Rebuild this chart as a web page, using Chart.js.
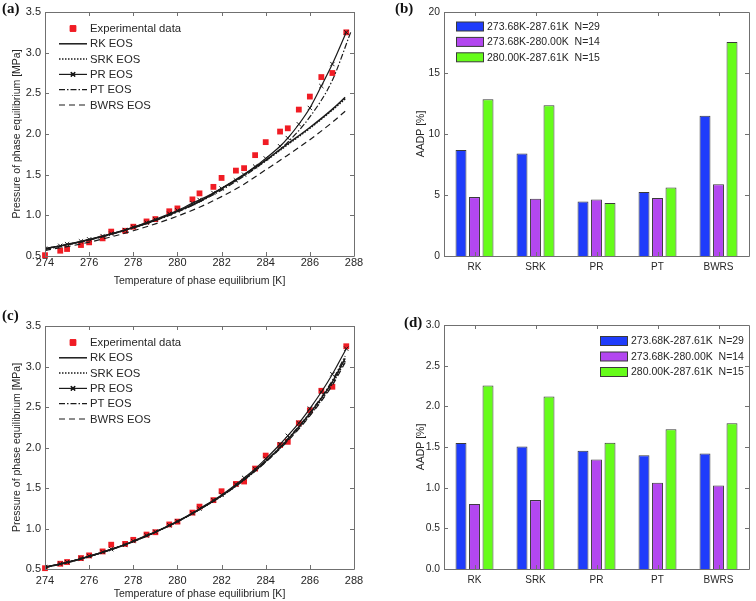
<!DOCTYPE html>
<html lang="en">
<head>
  <meta charset="UTF-8">
  <title>Phase equilibrium EOS comparison</title>
  <script src="https://cdn.jsdelivr.net/npm/chart.js"></script>
  <style>
    body { margin: 0; background: #fff; }
    #wrap { position: relative; width: 756px; height: 601px; overflow: hidden; }
    .panel { position: absolute; }
    .tag { position: absolute; font: bold 15px "Liberation Serif", "Times New Roman", serif; line-height: 15px; color: #111; }
  </style>
</head>
<body>
<div id="wrap">
  <div class="panel" style="left:0;top:0;width:378px;height:300px"><canvas id="chartA"></canvas></div>
  <div class="panel" style="left:378px;top:0;width:378px;height:300px"><canvas id="chartB"></canvas></div>
  <div class="panel" style="left:0;top:300px;width:378px;height:301px"><canvas id="chartC"></canvas></div>
  <div class="panel" style="left:378px;top:300px;width:378px;height:301px"><canvas id="chartD"></canvas></div>
  <div class="tag" style="left:2px;top:1px">(a)</div>
  <div class="tag" style="left:395px;top:1px">(b)</div>
  <div class="tag" style="left:2px;top:308px">(c)</div>
  <div class="tag" style="left:404px;top:315px">(d)</div>
</div>

<script>
  // experimental points, same in (a) and (c)
  var expT = [274.0, 274.69, 275.0, 275.63, 276.0, 276.61, 277.0, 277.63, 278.0, 278.6, 279.0, 279.63, 280.0, 280.68,
              281.0, 281.63, 282.0, 282.65, 283.02, 283.52, 284.0, 284.65, 285.0, 285.5, 286.0, 286.52, 287.02, 287.65];
  var expP = [0.51, 0.565, 0.586, 0.635, 0.668, 0.717, 0.80, 0.81, 0.86, 0.925, 0.954, 1.05, 1.085, 1.196,
              1.27, 1.35, 1.46, 1.55, 1.58, 1.74, 1.90, 2.03, 2.07, 2.30, 2.46, 2.70, 2.75, 3.25];

  // EOS curves, panel (a)
  var curveT = [274, 275, 276, 277, 278, 279, 280, 281, 282, 283, 284, 285, 286, 287, 287.6];
  var rkA   = [0.59, 0.64, 0.70, 0.77, 0.85, 0.94, 1.05, 1.17, 1.33, 1.50, 1.68, 1.88, 2.08, 2.30, 2.45];
  var srkA  = [0.59, 0.64, 0.70, 0.77, 0.85, 0.94, 1.05, 1.17, 1.33, 1.49, 1.67, 1.87, 2.07, 2.29, 2.43];
  var prA   = [0.59, 0.625, 0.645, 0.68, 0.705, 0.745, 0.775, 0.82, 0.855, 0.91, 0.95, 1.02, 1.06, 1.15,
               1.19, 1.275, 1.33, 1.43, 1.50, 1.60, 1.70, 1.85, 1.95, 2.12, 2.32, 2.59, 2.86, 3.25];
  var ptTA  = [274, 275, 276, 277, 278, 279, 280, 281, 282, 283, 284, 285, 286, 287, 287.85];
  var ptA   = [0.58, 0.635, 0.695, 0.765, 0.845, 0.935, 1.04, 1.165, 1.31, 1.48, 1.67, 1.90, 2.21, 2.65, 3.25];
  var bwrsA = [0.57, 0.615, 0.67, 0.735, 0.81, 0.895, 0.99, 1.10, 1.23, 1.38, 1.56, 1.74, 1.93, 2.14, 2.28];

  // EOS curves, panel (c)
  var rkC   = [0.52, 0.58, 0.655, 0.74, 0.84, 0.955, 1.085, 1.235, 1.405, 1.60, 1.83, 2.10, 2.42, 2.80, 3.10];
  var srkC  = [0.52, 0.58, 0.655, 0.74, 0.84, 0.955, 1.085, 1.235, 1.40, 1.595, 1.825, 2.09, 2.40, 2.78, 3.07];
  var prC   = [0.525, 0.565, 0.585, 0.63, 0.66, 0.71, 0.745, 0.80, 0.845, 0.915, 0.96, 1.04, 1.09, 1.19,
               1.245, 1.35, 1.415, 1.545, 1.625, 1.735, 1.86, 2.04, 2.145, 2.30, 2.48, 2.685, 2.905, 3.22];
  var ptC   = [0.52, 0.58, 0.655, 0.74, 0.84, 0.955, 1.085, 1.235, 1.405, 1.605, 1.835, 2.11, 2.43, 2.82, 3.13];
  var bwrsC = [0.52, 0.58, 0.655, 0.74, 0.84, 0.955, 1.085, 1.235, 1.40, 1.595, 1.82, 2.08, 2.39, 2.76, 3.05];

  var lineLabels = ['Experimental data', 'RK EOS', 'SRK EOS', 'PR EOS', 'PT EOS', 'BWRS EOS'];

  // AADP bars
  var eosNames = ['RK', 'SRK', 'PR', 'PT', 'BWRS'];
  var rangeLabels = ['273.68K-287.61K  N=29', '273.68K-280.00K  N=14', '280.00K-287.61K  N=15'];
  var aadpAllB  = [8.68, 8.40, 4.47, 5.24, 11.49];
  var aadpLowB  = [4.83, 4.69, 4.64, 4.75, 5.89];
  var aadpHighB = [12.85, 12.36, 4.34, 5.62, 17.54];
  var aadpAllD  = [1.55, 1.506, 1.453, 1.40, 1.42];
  var aadpLowD  = [0.80, 0.847, 1.347, 1.06, 1.027];
  var aadpHighD = [2.255, 2.12, 1.551, 1.719, 1.793];

  var barColors = ['#1f3cfb', '#b347f0', '#66fc1a'];
  var textColor = '#262626';
  var fontFamily = '"Liberation Sans", Arial, sans-serif';

  Chart.defaults.font.family = fontFamily;
  Chart.defaults.color = textColor;
  Chart.defaults.animation = false;

  function pairs(xs, ys) {
    var out = [];
    for (var i = 0; i < xs.length; i++) out.push({ x: xs[i], y: ys[i] });
    return out;
  }

  // matlab-like box with inward ticks on all four sides
  var framePlugin = {
    id: 'frame',
    afterDraw: function(chart) {
      var ctx = chart.ctx, a = chart.chartArea;
      var xs = chart.scales.x, ys = chart.scales.y;
      ctx.save();
      ctx.strokeStyle = '#707070';
      ctx.lineWidth = 1;
      ctx.beginPath();
      ctx.rect(Math.round(a.left) + 0.5, Math.round(a.top) + 0.5,
               Math.round(a.right - a.left), Math.round(a.bottom - a.top));
      var tl = 4;
      xs.ticks.forEach(function(t, i) {
        var px = Math.round(xs.getPixelForTick(i)) + 0.5;
        ctx.moveTo(px, a.bottom); ctx.lineTo(px, a.bottom - tl);
        ctx.moveTo(px, a.top); ctx.lineTo(px, a.top + tl);
      });
      ys.ticks.forEach(function(t, i) {
        var py = Math.round(ys.getPixelForTick(i)) + 0.5;
        ctx.moveTo(a.left, py); ctx.lineTo(a.left + tl, py);
        ctx.moveTo(a.right, py); ctx.lineTo(a.right - tl, py);
      });
      ctx.stroke();
      ctx.restore();
    }
  };

  // legend drawn inside the plot area
  var innerLegend = {
    id: 'innerLegend',
    afterDraw: function(chart, args, opts) {
      var ctx = chart.ctx, a = chart.chartArea;
      ctx.save();
      ctx.font = opts.fontSize + 'px ' + fontFamily;
      ctx.textBaseline = 'middle';
      chart.data.datasets.forEach(function(ds, i) {
        var y = a.top + opts.top + i * opts.rowGap;
        var x0 = opts.fromRight ? a.right - opts.left : a.left + opts.left;
        var x1 = x0 + opts.sample;
        if (opts.kind === 'bar') {
          ctx.fillStyle = ds.backgroundColor;
          ctx.fillRect(x0, y - 4.5, opts.sample, 9);
          ctx.strokeStyle = '#3a3a3a';
          ctx.lineWidth = 1;
          ctx.strokeRect(x0 + 0.5, y - 4.5, opts.sample - 1, 9);
        } else {
          if (ds.showLine !== false) {
            ctx.strokeStyle = ds.borderColor;
            ctx.lineWidth = ds.borderWidth;
            ctx.setLineDash(ds.borderDash || []);
            ctx.beginPath();
            ctx.moveTo(x0, y); ctx.lineTo(x1, y);
            ctx.stroke();
            ctx.setLineDash([]);
          }
          if (ds.pointRadius > 0) {
            Chart.helpers.drawPoint(ctx, {
              pointStyle: ds.pointStyle, radius: ds.pointRadius, rotation: 0,
              borderWidth: ds.pointBorderWidth || 1
            }, (x0 + x1) / 2, y);
            ctx.fillStyle = ds.pointBackgroundColor || ds.borderColor;
            ctx.strokeStyle = ds.pointBorderColor || ds.borderColor;
            if (ds.pointStyle === 'rect') ctx.fill(); else ctx.stroke();
          }
        }
        ctx.fillStyle = textColor;
        ctx.fillText(ds.label, x1 + opts.gap, y + 0.5);
      });
      ctx.restore();
    }
  };

  function lineDatasets(pr, rk, srk, pt, ptT, bwrs) {
    var ink = '#1a1a1a';
    return [
      { label: lineLabels[0], data: pairs(expT, expP), showLine: false, pointStyle: 'rect', pointRadius: 4.1,
        pointBackgroundColor: '#f01c24', pointBorderColor: '#f01c24', pointBorderWidth: 0, borderColor: '#f01c24',
        order: 9, clip: false },
      { label: lineLabels[1], data: pairs(curveT, rk), borderColor: ink, borderWidth: 1.5, pointRadius: 0, order: 2 },
      { label: lineLabels[2], data: pairs(curveT, srk), borderColor: ink, borderWidth: 1.5, borderDash: [1.5, 1.5],
        pointRadius: 0, order: 3 },
      { label: lineLabels[3], data: pairs(expT, pr), borderColor: ink, borderWidth: 1.2, pointStyle: 'crossRot',
        pointRadius: 3, pointBorderWidth: 1, pointBorderColor: ink, pointBackgroundColor: ink, order: 1 },
      { label: lineLabels[4], data: pairs(ptT, pt), borderColor: ink, borderWidth: 1.2, borderDash: [6, 2, 1.5, 2],
        pointRadius: 0, order: 4 },
      { label: lineLabels[5], data: pairs(curveT, bwrs), borderColor: ink, borderWidth: 1.2, borderDash: [6, 4],
        pointRadius: 0, order: 5 }
    ];
  }

  function lineChart(id, datasets, pad, xHeight, tickPad, xTitlePad) {
    return new Chart(document.getElementById(id), {
      type: 'line',
      data: { datasets: datasets },
      plugins: [framePlugin, innerLegend],
      options: {
        responsive: true,
        maintainAspectRatio: false,
        layout: { padding: pad },
        elements: { line: { cubicInterpolationMode: 'monotone' } },
        plugins: {
          legend: { display: false },
          tooltip: { enabled: false },
          innerLegend: { kind: 'line', left: 14, top: 16.5, rowGap: 15.3, sample: 28, gap: 3, fontSize: 11.3 }
        },
        scales: {
          x: {
            type: 'linear', min: 274, max: 288,
            grid: { display: false, drawTicks: false, tickLength: 0 },
            border: { display: false },
            ticks: { stepSize: 2, padding: tickPad, maxRotation: 0, font: { size: 11 } },
            title: { display: true, text: 'Temperature of phase equilibrium [K]', font: { size: 10.5 },
                     padding: { top: 0, bottom: xTitlePad } },
            afterFit: function(s) { s.height = xHeight; }
          },
          y: {
            min: 0.5, max: 3.5,
            grid: { display: false, drawTicks: false, tickLength: 0 },
            border: { display: false },
            ticks: { stepSize: 0.5, padding: 4, font: { size: 11 },
                     callback: function(v) { return v.toFixed(1); } },
            title: { display: true, text: 'Pressure of phase equilibrium [MPa]', font: { size: 10.5 },
                     padding: { top: 10.5, bottom: 0 } },
            afterFit: function(s) { s.width = 45; }
          }
        }
      }
    });
  }

  function barChart(id, all, low, high, yMax, yStep, digits, pad, xHeight, tickPad, legendOpts) {
    var sets = [all, low, high].map(function(vals, i) {
      return { label: rangeLabels[i], data: vals, backgroundColor: barColors[i], borderColor: '#3a3a3a',
               borderWidth: 1, categoryPercentage: 0.664, barPercentage: 0.81 };
    });
    return new Chart(document.getElementById(id), {
      type: 'bar',
      data: { labels: eosNames, datasets: sets },
      plugins: [framePlugin, innerLegend],
      options: {
        responsive: true,
        maintainAspectRatio: false,
        layout: { padding: pad },
        plugins: {
          legend: { display: false },
          tooltip: { enabled: false },
          innerLegend: legendOpts
        },
        scales: {
          x: {
            grid: { display: false, drawTicks: false, tickLength: 0 },
            border: { display: false },
            ticks: { padding: tickPad, font: { size: 10 } },
            afterFit: function(s) { s.height = xHeight; }
          },
          y: {
            min: 0, max: yMax,
            grid: { display: false, drawTicks: false, tickLength: 0 },
            border: { display: false },
            ticks: { stepSize: yStep, padding: 4, font: { size: 10.3 },
                     callback: function(v) { return v.toFixed(digits); } },
            title: { display: true, text: 'AADP [%]', font: { size: 10.5 }, padding: { top: 36.5, bottom: 0 } },
            afterFit: function(s) { s.width = 66; }
          }
        }
      }
    });
  }

  lineChart('chartA', lineDatasets(prA, rkA, srkA, ptA, ptTA, bwrsA),
            { left: 0, top: 12, right: 24, bottom: 0 }, 44, 0, 13);
  lineChart('chartC', lineDatasets(prC, rkC, srkC, ptC, curveT, bwrsC),
            { left: 0, top: 26, right: 24, bottom: 0 }, 32, 5, 1);

  barChart('chartB', aadpAllB, aadpLowB, aadpHighB, 20, 5, 0,
           { left: 0, top: 12, right: 7, bottom: 0 }, 44, 5,
           { kind: 'bar', left: 12, top: 14.5, rowGap: 15.4, sample: 28, gap: 3, fontSize: 10.5 });
  barChart('chartD', aadpAllD, aadpLowD, aadpHighD, 3, 0.5, 1,
           { left: 0, top: 25, right: 7, bottom: 0 }, 32, 5,
           { kind: 'bar', fromRight: true, left: 149, top: 16, rowGap: 15.5, sample: 28, gap: 3, fontSize: 10.5 });
</script>
</body>
</html>
